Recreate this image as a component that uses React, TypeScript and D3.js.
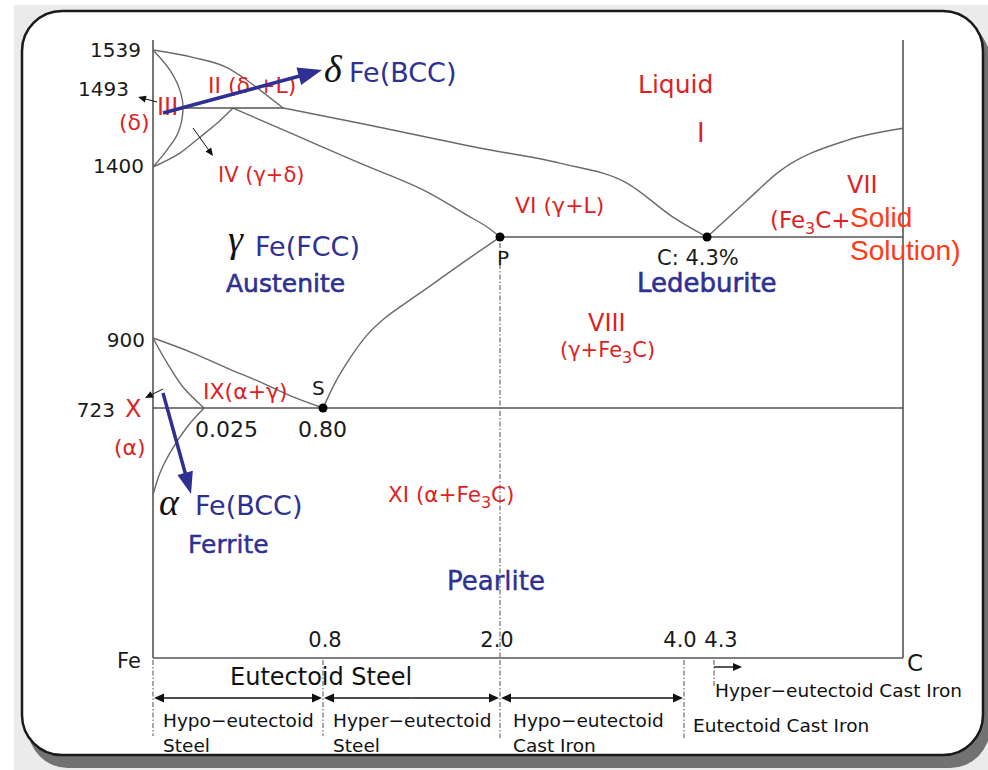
import React from 'react';
import * as d3 from 'd3';

const width = 988;
const height = 770;
const RED = '#dd1f26';
const BLUE = '#2e3192';
const ORANGE = '#ff3a14';
const FONT = "'DejaVu Sans', Verdana, sans-serif";

// phase boundaries, [carbon %, temperature °C] (schematic diagram, axes are not to scale)
const liquidusAB = [[0, 1539], [0.02, 1533], [0.175, 1525], [0.305, 1515], [0.435, 1503], [0.54, 1493]];
const liquidusBC = [[0.54, 1493], [1.05, 1469], [1.86, 1430], [2.65, 1406], [3.38, 1342], [3.88, 1219], [4.3, 1147]];
const liquidusCD = [[4.3, 1147], [4.78, 1278], [5.18, 1385], [5.99, 1442], [6.67, 1461]];
const deltaSolvus = [[0, 1539], [0.0083, 1523], [0.0132, 1507], [0.0147, 1493], [0.0123, 1454], [0.0069, 1427], [0, 1400]];
const gammaDelta = [[0.214, 1493], [0.11, 1469], [0.023, 1447], [0.0132, 1422], [0, 1400]];
const solidusJE = [[0.214, 1493], [0.65, 1447], [1.05, 1406], [1.505, 1310], [1.776, 1226], [1.932, 1176], [2.0, 1147]];
const acm = [[0.8, 723], [0.881, 786], [0.983, 849], [1.098, 907], [1.22, 949], [1.342, 981], [1.525, 1027], [1.763, 1088], [2.0, 1147]];
const a3 = [[0, 900], [0.0196, 862], [0.175, 824], [0.39, 789], [0.605, 751], [0.8, 723]];
const ferriteA3 = [[0, 900], [0.0069, 837], [0.0147, 776], [0.025, 723]];
const ferriteSolvus = [[0.025, 723], [0.0167, 668], [0.0083, 593], [0.0034, 535], [0, 471]];

const peritectic = [[0.0147, 1493], [0.54, 1493]];
const eutectic = [[2.0, 1147], [6.67, 1147]];
const eutectoid = [[0, 723], [6.67, 723]];

const keyPoints = [[0.8, 723], [2.0, 1147], [4.3, 1147]];

const tempTicks = [1539, 1493, 1400, 900, 723];
const carbonTicks = ['0.8', '2.0', '4.0', '4.3'];
const steelRanges = [[0, 0.8], [0.8, 2.0], [2.0, 4.0]];
const rangeNames = [['Hypo−eutectoid', 'Steel'], ['Hyper−eutectoid', 'Steel'], ['Hypo−eutectoid', 'Cast Iron']];
const dividers = [0, 0.8, 2.0, 4.0, 4.3];

const x = d3.scaleLinear()
  .domain([0, 0.025, 0.8, 2.0, 4.0, 4.3, 6.67])
  .range([153, 204, 323, 500, 684, 707, 903]);
const y = d3.scaleLinear()
  .domain([1600, 1539, 1493, 1400, 1147, 900, 723, 0])
  .range([40, 50, 108, 167, 237, 338, 408, 658]);

// curves running left to right use monotoneX, the steep ones near the Fe axis catmull-rom
const smoothX = d3.line<number[]>().x(d => x(d[0])).y(d => y(d[1])).curve(d3.curveMonotoneX);
const smooth = d3.line<number[]>().x(d => x(d[0])).y(d => y(d[1])).curve(d3.curveCatmullRom.alpha(0.5));
const straight = d3.line<number[]>().x(d => x(d[0])).y(d => y(d[1]));

// tick label tweaks (the 1493 label sits above its line)
const tickLayout = { 1539: [141, 7], 1493: [129, -12], 1400: [144, 6], 900: [145, 9], 723: [115, 9] };

function arrowHead(x1, y1, x2, y2, len, half) {
  const a = Math.atan2(y2 - y1, x2 - x1);
  const bx = x2 - len * Math.cos(a), by = y2 - len * Math.sin(a);
  const px = -Math.sin(a) * half, py = Math.cos(a) * half;
  return `M${x2},${y2}L${bx + px},${by + py}L${bx - px},${by - py}Z`;
}

function Arrow({ x1, y1, x2, y2, color = '#111', w = 1, len = 8, half = 3.5 }) {
  const a = Math.atan2(y2 - y1, x2 - x1);
  return (
    <g>
      <line x1={x1} y1={y1} x2={x2 - (len - 1) * Math.cos(a)} y2={y2 - (len - 1) * Math.sin(a)} stroke={color} strokeWidth={w} />
      <path d={arrowHead(x1, y1, x2, y2, len, half)} fill={color} />
    </g>
  );
}

export default function App() {
  const y0 = y(0);
  const arrowY = y0 + 40;
  return (
    <svg width={width} height={height} style={{ position: 'absolute', left: 0, top: 0 }} fontFamily={FONT}>
      <rect x={0} y={0} width={width} height={height} fill="#fff" />
      <rect x={14} y={5} width={width - 14} height={height - 5} fill="#ebebeb" />
      <rect x={28} y={20} width={962} height={748} rx={40} fill="#727272" />
      <rect x={22} y={11} width={961} height={744} rx={40} fill="#fff" stroke="#1a1a1a" strokeWidth={2.5} />

      {/* frame of the diagram */}
      <line x1={x(0)} x2={x(0)} y1={y(1600)} y2={y0} stroke="#555" strokeWidth={1.6} />
      <line x1={x(6.67)} x2={x(6.67)} y1={y(1600)} y2={y0} stroke="#555" strokeWidth={1.6} />
      <line x1={x(0)} x2={x(6.67)} y1={y0} y2={y0} stroke="#555" strokeWidth={1.6} />

      {/* dash-dot dividers */}
      <g stroke="#777" strokeWidth={1.3} strokeDasharray="5,2,1.5,2">
        <line x1={x(2.0)} x2={x(2.0)} y1={y(1147) + 6} y2={y0} />
        {dividers.map((c, i) => {
          const dx = c === 4.3 ? 7 : 0;
          const len = c === 4.3 ? 30 : c === 0 || c === 0.8 ? 78 : 80;
          return <line key={i} x1={x(c) + dx} x2={x(c) + dx} y1={y0 + 2} y2={y0 + len} />;
        })}
      </g>

      {/* phase boundaries */}
      <g fill="none" stroke="#6a6a6a" strokeWidth={1.4}>
        {[liquidusAB, liquidusBC, liquidusCD, solidusJE, acm, a3].map((c, i) => (
          <path key={'m' + i} d={smoothX(c)} />
        ))}
        {[deltaSolvus, gammaDelta, ferriteA3, ferriteSolvus].map((c, i) => (
          <path key={'c' + i} d={smooth(c)} />
        ))}
      </g>
      <g fill="none" stroke="#555" strokeWidth={1.6}>
        {[peritectic, eutectic, eutectoid].map((c, i) => <path key={i} d={straight(c)} />)}
      </g>
      {keyPoints.map((p, i) => <circle key={i} cx={x(p[0])} cy={y(p[1])} r={4.5} fill="#000" />)}

      {/* temperature labels */}
      <g fontSize={20} fill="#1a1a1a" textAnchor="end">
        {tempTicks.map(t => (
          <text key={t} x={tickLayout[t][0]} y={y(t) + tickLayout[t][1]}>{t}</text>
        ))}
      </g>

      {/* carbon labels */}
      <g fontSize={21} fill="#1a1a1a" textAnchor="middle">
        <text x={x(0.8) + 2} y={y0 - 11}>{carbonTicks[0]}</text>
        <text x={x(2.0) - 3} y={y0 - 11}>{carbonTicks[1]}</text>
        <text x={x(4.0) - 4} y={y0 - 11}>{carbonTicks[2]}</text>
        <text x={x(4.3) + 14} y={y0 - 11}>{carbonTicks[3]}</text>
      </g>
      <text x={117} y={668} fontSize={21} fill="#1a1a1a">Fe</text>
      <text x={907} y={671} fontSize={23} fill="#1a1a1a">C</text>

      {/* steel / cast iron ranges */}
      <text x={230} y={685} fontSize={24} fill="#111">Eutectoid Steel</text>
      {steelRanges.map((r, i) => (
        <g key={i}>
          <Arrow x1={(x(r[0]) + x(r[1])) / 2} y1={arrowY} x2={x(r[0]) + 1} y2={arrowY} w={1.6} len={10} half={4.5} />
          <Arrow x1={(x(r[0]) + x(r[1])) / 2} y1={arrowY} x2={x(r[1]) - 1} y2={arrowY} w={1.6} len={10} half={4.5} />
          <text x={x(r[0]) + (i === 2 ? 13 : 10)} y={727} fontSize={18.5} fill="#111">{rangeNames[i][0]}</text>
          <text x={x(r[0]) + (i === 2 ? 13 : 10)} y={752} fontSize={18.5} fill="#111">{rangeNames[i][1]}</text>
        </g>
      ))}
      <Arrow x1={x(4.3) + 7} y1={y0 + 9} x2={x(4.3) + 35} y2={y0 + 9} w={1.4} len={9} half={4} />
      <text x={715} y={697} fontSize={18.5} fill="#111">Hyper−eutectoid Cast Iron</text>
      <text x={693} y={732} fontSize={18.5} fill="#111">Eutectoid Cast Iron</text>

      {/* point labels */}
      <g fontSize={20} fill="#1a1a1a">
        <text x={312} y={395}>S</text>
        <text x={497} y={265}>P</text>
        <text x={195} y={437} fontSize={22}>0.025</text>
        <text x={298} y={437} fontSize={22}>0.80</text>
        <text x={657} y={265} fontSize={21}>C: 4.3%</text>
      </g>

      {/* phase regions */}
      <g fill={RED}>
        <text x={208} y={93} fontSize={22}>II (δ +L)</text>
        <text x={157} y={115} fontSize={24}>III</text>
        <text x={119} y={130} fontSize={22}>(δ)</text>
        <text x={218} y={182} fontSize={21}>IV (γ+δ)</text>
        <text x={638} y={93} fontSize={25}>Liquid</text>
        <text x={697} y={142} fontSize={26}>I</text>
        <text x={515} y={213} fontSize={22}>VI (γ+L)</text>
        <text x={847} y={193} fontSize={24}>VII</text>
        <text x={770} y={228} fontSize={23}>(Fe<tspan dy={6} fontSize={16}>3</tspan><tspan dy={-6}>C+</tspan></text>
        <text x={588} y={331} fontSize={24}>VIII</text>
        <text x={560} y={357} fontSize={21}>(γ+Fe<tspan dy={6} fontSize={16}>3</tspan><tspan dy={-6}>C)</tspan></text>
        <text x={203} y={399} fontSize={22}>IX(α+γ)</text>
        <text x={125} y={417} fontSize={24}>X</text>
        <text x={114} y={455} fontSize={22}>(α)</text>
        <text x={388} y={502} fontSize={21.5}>XI (α+Fe<tspan dy={6} fontSize={16}>3</tspan><tspan dy={-6}>C)</tspan></text>
      </g>
      <g fill={ORANGE} fontFamily="'Liberation Sans', Arial, sans-serif" fontSize={28}>
        <text x={850} y={227}>Solid</text>
        <text x={850} y={260}>Solution)</text>
      </g>

      {/* structures */}
      <g fill={BLUE}>
        <text x={349} y={82} fontSize={27}>Fe(BCC)</text>
        <text x={255} y={256} fontSize={27}>Fe(FCC)</text>
        <text x={226} y={292} fontSize={25} stroke={BLUE} strokeWidth={0.6}>Austenite</text>
        <text x={637} y={292} fontSize={26} stroke={BLUE} strokeWidth={0.6}>Ledeburite</text>
        <text x={195} y={515} fontSize={27}>Fe(BCC)</text>
        <text x={188} y={553} fontSize={25} stroke={BLUE} strokeWidth={0.4}>Ferrite</text>
        <text x={447} y={590} fontSize={26} stroke={BLUE} strokeWidth={0.4}>Pearlite</text>
      </g>
      <g fontFamily="'Liberation Serif', 'DejaVu Serif', serif" fontStyle="italic" fontSize={38} fill="#111">
        <text x={324} y={82}>δ</text>
        <text x={228} y={252}>γ</text>
        <text x={159} y={515}>α</text>
      </g>

      {/* pointers */}
      <Arrow x1={163} y1={113} x2={322} y2={70} color={BLUE} w={3.5} len={24} half={9} />
      <Arrow x1={163} y1={393} x2={191} y2={494} color={BLUE} w={3.5} len={22} half={8} />
      <Arrow x1={157} y1={102} x2={138} y2={97} />
      <Arrow x1={193} y1={128} x2={213} y2={156} />
      <Arrow x1={163} y1={389} x2={145} y2={398} />
    </svg>
  );
}
